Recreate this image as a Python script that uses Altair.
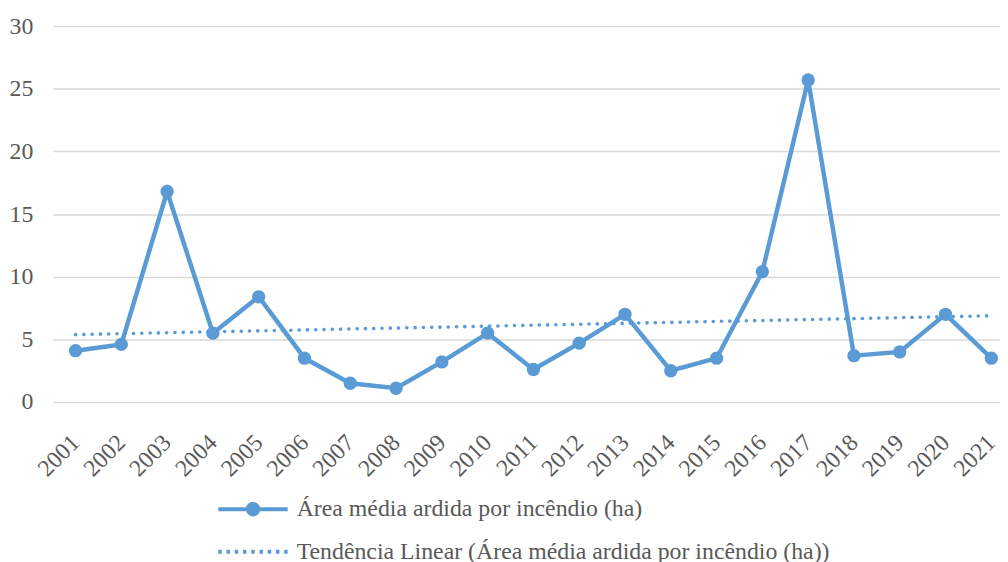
import altair as alt
import pandas as pd

years = list(range(2001, 2022))
area = [4.1, 4.6, 16.8, 5.5, 8.4, 3.5, 1.5, 1.1, 3.2, 5.5, 2.6, 4.7, 7.0, 2.5,
        3.5, 10.4, 25.7, 3.7, 4.0, 7.0, 3.5]
series_names = ["Área média ardida por incêndio (ha)",
                "Tendência Linear (Área média ardida por incêndio (ha))"]
y_ticks = [0, 5, 10, 15, 20, 25, 30]

BLUE = "#5B9BD5"
TEXT = "#595959"
GRID = "#D9D9D9"
FONT = "Liberation Serif"
FS = 24

df = pd.DataFrame({"ano": years, "area": area})
leg_df = pd.DataFrame({"serie": series_names})

x = alt.X("ano:Q",
          scale=alt.Scale(domain=[2000.5, 2021.19], nice=False, zero=False),
          axis=alt.Axis(values=years, format="d", labelAngle=-45, grid=False,
                        domain=False, ticks=False, labelPadding=37,
                        title=None,
                        labelFont=FONT, labelFontSize=FS, labelColor=TEXT,
                        labelAlign="right", labelBaseline="middle",
                        labelFlush=False, labelOverlap=False))
y = alt.Y("area:Q",
          scale=alt.Scale(domain=[0, 30], nice=False),
          axis=alt.Axis(values=y_ticks, grid=True, gridColor=GRID, gridWidth=1.5,
                        domain=False, ticks=False, labelPadding=20, title=None,
                        labelFont=FONT, labelFontSize=FS, labelColor=TEXT))

base = alt.Chart(df)
line = base.mark_line(color=BLUE, strokeWidth=4.5).encode(x=x, y=y)
pts = base.mark_circle(color=BLUE, size=180, opacity=1).encode(x=x, y=y)
trend = (base.transform_regression("ano", "area", extent=[2001, 2021])
         .mark_line(color=BLUE, strokeWidth=3.6, strokeDash=[0.1, 8.25], strokeCap="round")
         .encode(x=x, y=y))

P1 = ("M-1,0H1 M0.15,0A0.15,0.15 0 1,1 -0.15,0A0.15,0.15 0 1,1 0.15,0 "
      "M0.09,0A0.09,0.09 0 1,1 -0.09,0A0.09,0.09 0 1,1 0.09,0 "
      "M0.03,0A0.03,0.03 0 1,1 -0.03,0A0.03,0.03 0 1,1 0.03,0")
P2 = "M-1,0H1"

leg = alt.Legend(title=None, orient="none", legendX=165, legendY=475,
                 direction="vertical", symbolSize=4900, symbolStrokeWidth=4,
                 symbolOpacity=1,
                 labelFont=FONT, labelFontSize=FS, labelColor=TEXT, labelLimit=0,
                 labelOffset=7, clipHeight=24, rowPadding=19, padding=0)

legend_layer = (alt.Chart(leg_df).transform_filter("false")
                .mark_point(filled=False, strokeWidth=4, opacity=1)
                .encode(
                    color=alt.Color("serie:N", scale=alt.Scale(domain=series_names, range=[BLUE, BLUE]), legend=leg),
                    shape=alt.Shape("serie:N", scale=alt.Scale(domain=series_names, range=[P1, P2]), legend=leg),
                    strokeDash=alt.StrokeDash("serie:N", scale=alt.Scale(domain=series_names, range=[[1, 0], [3.5, 4.8]]), legend=leg),
                ))

chart = (alt.layer(line, trend, pts, legend_layer)
         .properties(width=955, height=379,
                     padding={"left": 45, "top": 16, "right": 0, "bottom": 159},
                     autosize=alt.AutoSizeParams(type="none"),
                     background="white")
         .configure_view(stroke=None))

chart.save("out.html", embed_options={"renderer": "svg", "actions": False})
